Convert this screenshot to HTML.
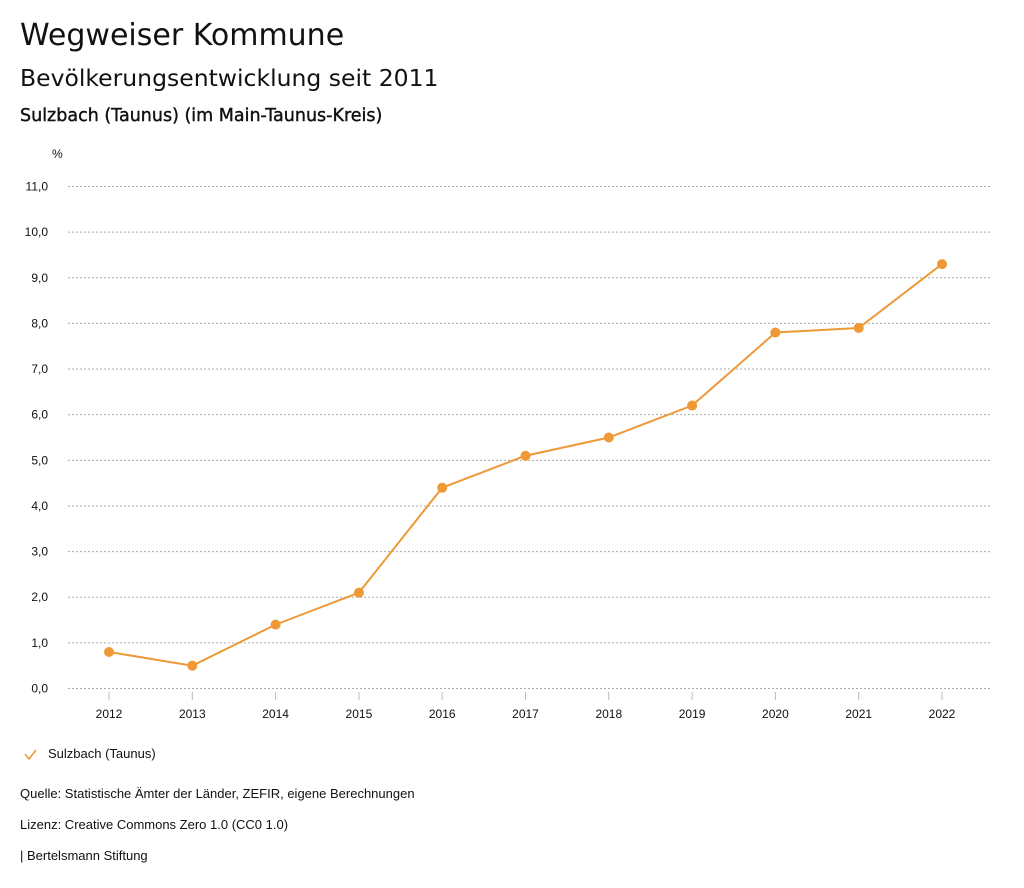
<!DOCTYPE html>
<html><head><meta charset="utf-8"><style>
body{margin:0;background:#fff;font-family:"Liberation Sans",sans-serif;color:#111;}
.t{position:absolute;white-space:nowrap}
.d{font-family:"DejaVu Sans",sans-serif}
</style></head><body>
<div style="position:relative;width:1024px;height:888px;overflow:hidden">
<div class="t d" style="left:20px;top:18px;font-size:30px">Wegweiser Kommune</div>
<div class="t d" style="left:20px;top:64px;font-size:23.5px">Bevölkerungsentwicklung seit 2011</div>
<div class="t d" style="left:20px;top:106px;font-size:17.5px;-webkit-text-stroke:0.4px #111">Sulzbach (Taunus) (im Main-Taunus-Kreis)</div>
<svg id="chart" width="1024" height="888" style="position:absolute;left:0;top:0"></svg>
<div class="t" style="left:48px;top:746px;font-size:13px">Sulzbach (Taunus)</div>
<div class="t" style="left:20px;top:786px;font-size:13px">Quelle: Statistische Ämter der Länder, ZEFIR, eigene Berechnungen</div>
<div class="t" style="left:20px;top:817px;font-size:13px">Lizenz: Creative Commons Zero 1.0 (CC0 1.0)</div>
<div class="t" style="left:20px;top:848px;font-size:13px">| Bertelsmann Stiftung</div>
</div>
<script>
const years=[2012,2013,2014,2015,2016,2017,2018,2019,2020,2021,2022];
const values=[0.8,0.5,1.4,2.1,4.4,5.1,5.5,6.2,7.8,7.9,9.3];
const yTicks=[0,1,2,3,4,5,6,7,8,9,10,11];
const yTickLabels=["0,0","1,0","2,0","3,0","4,0","5,0","6,0","7,0","8,0","9,0","10,0","11,0"];
const NS="http://www.w3.org/2000/svg";
const svg=document.getElementById('chart');
const x=i=>109+i*(942-109)/(years.length-1);
const y=v=>688.5-v*(688-186)/11;
function mk(t,a,p){const e=document.createElementNS(NS,t);for(const k in a)e.setAttribute(k,a[k]);(p||svg).appendChild(e);return e;}
const u=mk('text',{x:52,y:158,'font-size':12,fill:'#111'});u.textContent='%';


yTicks.forEach((v,i)=>{
const l=mk('line',{x1:68,x2:990,y1:y(v),y2:y(v),stroke:'#aaa','stroke-dasharray':'2,2'});


const t=mk('text',{x:48,y:y(v)+4,'font-size':12,'text-anchor':'end',fill:'#111'});t.textContent=yTickLabels[i];


});
years.forEach((yr,i)=>{
const l=mk('line',{x1:x(i),x2:x(i),y1:692,y2:700,stroke:'#bbb'});


const t=mk('text',{x:x(i),y:718,'font-size':12,'text-anchor':'middle',fill:'#111'});t.textContent=yr;


});
const pl=mk('polyline',{points:values.map((v,i)=>x(i)+','+y(v)).join(' '),fill:'none',stroke:'#ee9935','stroke-width':2});


values.forEach((v,i)=>{
const c=mk('circle',{cx:x(i),cy:y(v),r:5,fill:'#ee9935'});


});
const chk=mk('polyline',{points:'25,754 29,759 36,750',fill:'none',stroke:'#ee9935','stroke-width':1.6});


</script>
</body></html>
